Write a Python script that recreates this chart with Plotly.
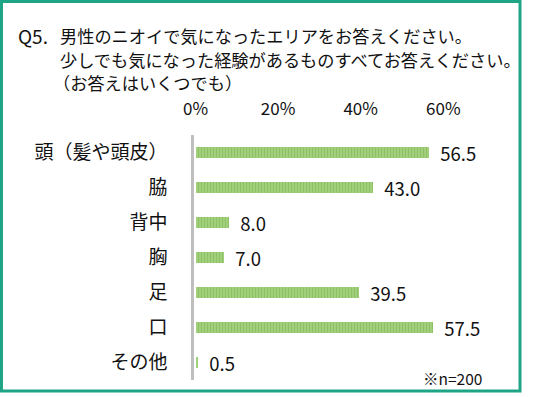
import plotly.graph_objects as go

categories = ["頭（髪や頭皮）", "脇", "背中", "胸", "足", "口", "その他"]
values = [56.5, 43.0, 8.0, 7.0, 39.5, 57.5, 0.5]
tick_values = [0, 20, 40, 60]
tick_labels = ["0%", "20%", "40%", "60%"]
title_q = "Q5."
title_lines = ["男性のニオイで気になったエリアをお答えください。",
               "少しでも気になった経験があるものすべてお答えください。",
               "（お答えはいくつでも）"]
note = "※n=200"

W, H = 543, 397
L, T = 194, 135
PW, PH = 310, 245
R = W - L - PW
B = H - T - PH
PXPCT = 4.13
FONT = "Noto Sans CJK JP"
TXT = "#111111"


def px(x):
    return (x - L) / PW


def py(y):
    return (T + PH - y) / PH


fig = go.Figure()
fig.add_trace(go.Bar(
    x=values, y=categories, orientation="h",
    marker=dict(color="#a8d382", line=dict(width=0),
                pattern=dict(shape="|", fgcolor="#72b043", size=3, solidity=0.5)),
    width=0.29,
    text=values, texttemplate="\u00a0\u00a0%{x:.1f}", textposition="outside",
    constraintext="none",
    textfont=dict(family=FONT, size=18.5, color=TXT),
    cliponaxis=False, hoverinfo="skip", showlegend=False,
))

fig.update_layout(
    width=W, height=H,
    margin=dict(l=L, r=R, t=T, b=B, pad=0),
    paper_bgcolor="white", plot_bgcolor="white",
    font=dict(family=FONT, color=TXT),
    bargap=0,
    xaxis=dict(range=[-1.5 / PXPCT, (PW - 1.5) / PXPCT], side="top",
               tickvals=tick_values, ticktext=tick_labels,
               tickfont=dict(size=17, color=TXT),
               showgrid=False, zeroline=False, showline=False, ticks="",
               ticklabelstandoff=16),
    yaxis=dict(categoryorder="array", categoryarray=categories,
               autorange="reversed",
               tickfont=dict(size=19, color=TXT),
               showgrid=False, zeroline=False, showline=True,
               linecolor="#bfbfbf", linewidth=2.5, ticks="",
               ticklabelstandoff=20),
    shapes=[dict(type="rect", xref="paper", yref="paper",
                 x0=px(1.5), x1=px(520), y0=py(391), y1=py(1.5),
                 line=dict(color="#20a486", width=3), fillcolor="rgba(0,0,0,0)")],
)

ann = [dict(text=title_q, x=px(16), y=py(35), size=19),
       dict(text=title_lines[0], x=px(58), y=py(35), size=17.2),
       dict(text=title_lines[1], x=px(58), y=py(59), size=17.2),
       dict(text=title_lines[2], x=px(51), y=py(83), size=17.2)]
for a in ann:
    fig.add_annotation(text=a["text"], x=a["x"], y=a["y"], xref="paper", yref="paper",
                       xanchor="left", yanchor="middle", showarrow=False,
                       font=dict(family=FONT, size=a["size"], color=TXT))
fig.add_annotation(text=note, x=px(421), y=py(378), xref="paper", yref="paper",
                   xanchor="left", yanchor="middle", showarrow=False,
                   font=dict(family=FONT, size=15.5, color=TXT))

fig.write_html("out.html", config={"displayModeBar": False},
               post_script="document.body.style.margin='0';document.body.style.overflow='hidden';")
